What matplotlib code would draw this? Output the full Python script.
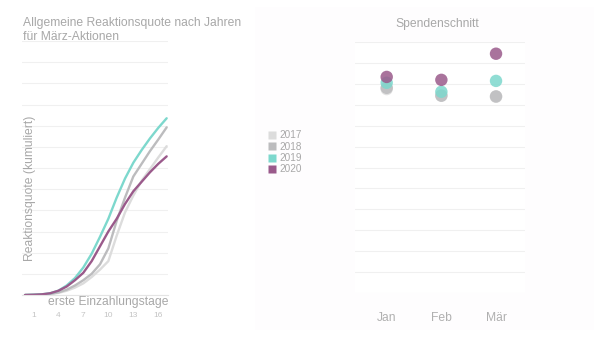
import numpy as np
import matplotlib
matplotlib.use('Agg')
import matplotlib.pyplot as plt
from matplotlib.lines import Line2D
from matplotlib.patches import Rectangle

plt.rcParams['font.family'] = ['Liberation Sans', 'DejaVu Sans']

# Reaktionsquote kumuliert je Einzahlungstag (Tag 0..17)
tage = np.arange(0, 18)
quote_2017 = [0, 0.01, 0.02, 0.04, 0.1, 0.2, 0.35, 0.55, 0.85, 1.2, 1.6, 2.8, 3.9, 4.7, 5.4, 5.95, 6.5, 7.03]
quote_2018 = [0, 0.01, 0.02, 0.05, 0.12, 0.25, 0.45, 0.7, 1.0, 1.45, 2.2, 3.5, 4.6, 5.6, 6.2, 6.8, 7.35, 7.92]
quote_2019 = [0, 0.01, 0.03, 0.08, 0.2, 0.45, 0.8, 1.3, 1.95, 2.75, 3.6, 4.6, 5.5, 6.25, 6.85, 7.4, 7.9, 8.35]
quote_2020 = [0, 0.01, 0.03, 0.08, 0.2, 0.4, 0.7, 1.05, 1.6, 2.3, 3.0, 3.6, 4.3, 4.9, 5.35, 5.8, 6.2, 6.55]
tick_tage = [1, 4, 7, 10, 13, 16]

# Spendenschnitt je Monat
monate = ['Jan', 'Feb', 'Mär']
schnitt_2017 = [97.5, 94.5, 93.8]
schnitt_2018 = [98.1, 94.3, 94.0]
schnitt_2019 = [100.5, 96.2, 101.4]
schnitt_2020 = [103.3, 101.9, 114.4]

jahre = ['2017', '2018', '2019', '2020']
farben = ['#dcdcdc', '#bcbcbe', '#7dd8cd', '#9a5a8b']
textfarbe = '#a8a8a8'
gridfarbe = '#f0f0f0'

fig = plt.figure(figsize=(6, 3.4), dpi=100)
fig.patch.set_facecolor('white')

# ganz leichte Hintergrundfläche der rechten Kachel
fig.patches.append(Rectangle((0.425, 0.03), 0.565, 0.95, transform=fig.transFigure,
                             facecolor='#fefdfe', edgecolor='none', zorder=-10))

# linkes Diagramm: kumulierte Reaktionsquote
ax1 = fig.add_axes([22 / 600, 45 / 340, 146 / 600, 254 / 340])
ax1.set_facecolor('white')
for werte, farbe in zip([quote_2017, quote_2018, quote_2019, quote_2020], farben):
    ax1.plot(tage, werte, color=farbe, lw=1.7, solid_capstyle='round')
ax1.set_xlim(-0.36, 17.16)
ax1.set_ylim(0, 12)
ax1.set_yticks(np.arange(0, 13, 1))
ax1.yaxis.grid(True, color=gridfarbe, lw=0.8)
ax1.set_axisbelow(True)
ax1.set_yticklabels([])
ax1.set_xticks(tick_tage)
ax1.set_xticklabels([str(t) for t in tick_tage])
ax1.tick_params(axis='x', length=0, pad=12, labelsize=6, labelcolor='#c4c4c4')
ax1.tick_params(axis='y', length=0)
for s in ['top', 'right', 'left']:
    ax1.spines[s].set_visible(False)
ax1.spines['bottom'].set_color('#e4e4e4')
ax1.text(1.0, -0.028, 'erste Einzahlungstage', transform=ax1.transAxes,
         ha='right', va='center', fontsize=8.7, color=textfarbe)
ax1.text(0.055, 0.42, 'Reaktionsquote (kumuliert)', transform=ax1.transAxes,
         rotation=90, ha='center', va='center', fontsize=8.7, color=textfarbe)

fig.text(23 / 600, 1 - 17 / 340, 'Allgemeine Reaktionsquote nach Jahren\nfür März-Aktionen',
         ha='left', va='top', fontsize=8.7, color=textfarbe, linespacing=1.2)

# Legende
handles = [Line2D([], [], marker='s', linestyle='none', markersize=6,
                  markerfacecolor=f, markeredgecolor='none') for f in farben]
fig.legend(handles, jahre, loc='upper left', bbox_to_anchor=(263 / 600, 1 - 125 / 340),
           frameon=False, fontsize=7.2, labelcolor=textfarbe, handlelength=0.8,
           handletextpad=0.3, labelspacing=0.15, borderpad=0)

# rechtes Diagramm: Spendenschnitt
ax2 = fig.add_axes([355 / 600, 47 / 340, 170 / 600, 251 / 340])
ax2.set_facecolor('white')
x = np.arange(len(monate))
for werte, farbe in zip([schnitt_2017, schnitt_2018, schnitt_2019, schnitt_2020], farben):
    ax2.scatter(x, werte, s=80, color=farbe, alpha=0.85, edgecolors='none', zorder=3)
ax2.set_xlim(-0.58, 2.53)
ax2.set_ylim(0, 120)
ax2.set_yticks(np.arange(0, 121, 10))
ax2.yaxis.grid(True, color=gridfarbe, lw=0.8)
ax2.set_axisbelow(True)
ax2.set_yticklabels([])
ax2.set_xticks(x)
ax2.set_xticklabels(monate)
ax2.tick_params(axis='x', length=0, pad=14, labelsize=8.7, labelcolor='#b0b0b0')
ax2.tick_params(axis='y', length=0)
for s in ax2.spines.values():
    s.set_visible(False)
fig.text(437 / 600, 1 - 24 / 340, 'Spendenschnitt', ha='center', va='center',
         fontsize=8.7, color=textfarbe)

fig.savefig('out.png', dpi=100)
